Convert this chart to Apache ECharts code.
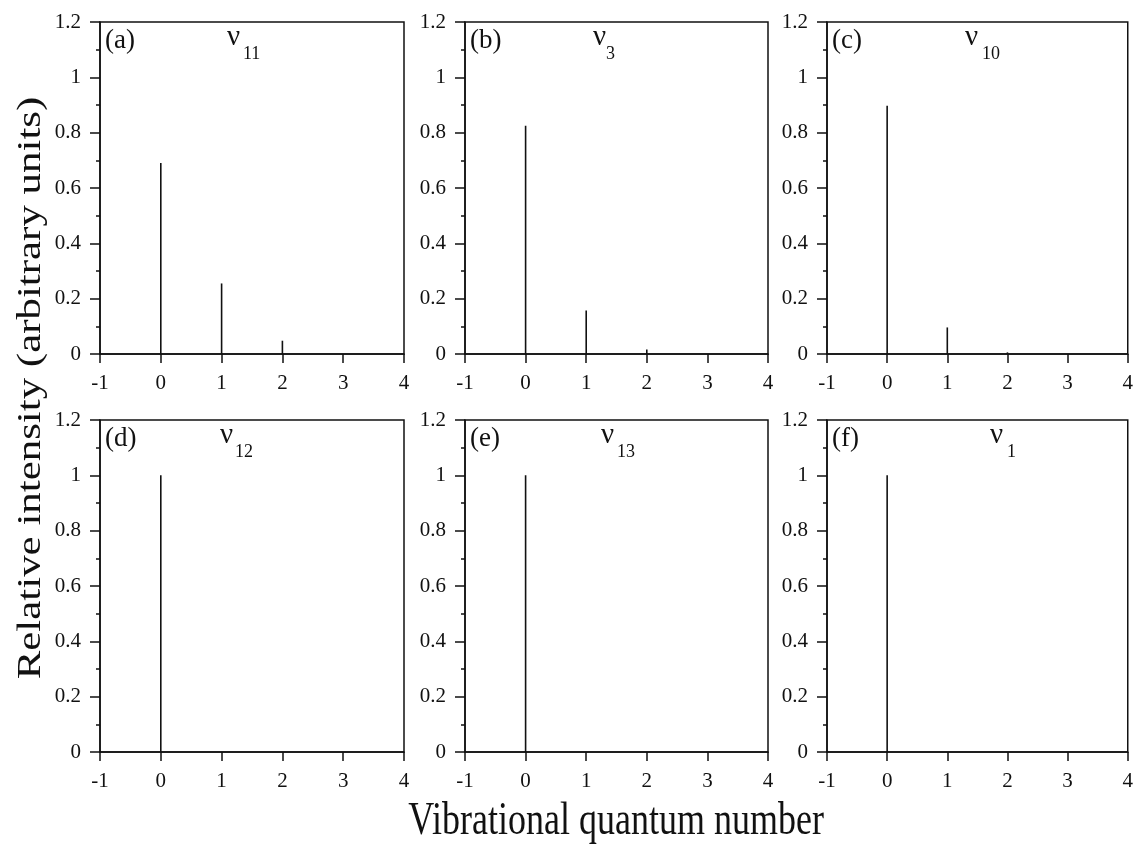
<!DOCTYPE html>
<html>
<head>
<meta charset="utf-8">
<script src="https://cdn.jsdelivr.net/npm/echarts@6/dist/echarts.min.js"></script>
<style>
html,body{margin:0;padding:0;background:#fff;}
#c{width:1136px;height:851px;}
</style>
</head>
<body>
<div id="c"></div>
<script>
// ---- data ----
var panelLabels = ['(a)', '(b)', '(c)', '(d)', '(e)', '(f)'];
var modeSubs = ['11', '3', '10', '12', '13', '1'];
var quantumA = [0, 1, 2];
var intensityA = [0.69, 0.255, 0.048];
var quantumB = [0, 1, 2];
var intensityB = [0.825, 0.157, 0.016];
var quantumC = [0, 1, 2];
var intensityC = [0.897, 0.096, 0.006];
var quantumD = [0];
var intensityD = [1.0];
var quantumE = [0];
var intensityE = [1.0];
var quantumF = [0];
var intensityF = [1.0];
var xTickLabels = ['-1', '0', '1', '2', '3', '4'];
var yTickLabels = ['0', '0.2', '0.4', '0.6', '0.8', '1', '1.2'];
var xTitle = 'Vibrational quantum number';
var yTitle = 'Relative intensity (arbitrary units)';

var quanta = [quantumA, quantumB, quantumC, quantumD, quantumE, quantumF];
var intens = [intensityA, intensityB, intensityC, intensityD, intensityE, intensityF];

// ---- layout ----
var FONT = '"Liberation Serif", "Times New Roman", serif';
var INK = '#111';
var lefts = [100, 465, 827];
var widths = [304, 303, 304];
var tops = [22, 420];
var H = 332;
var nuLeft = [227, 593, 965, 220, 601, 990];
var subGap = [16, 13, 17, 15, 16, 17];

var grids = [], xAxes = [], yAxes = [], series = [], graphics = [];
for (var i = 0; i < 6; i++) {
  var col = i % 3, row = Math.floor(i / 3);
  grids.push({
    left: lefts[col], top: tops[row], width: widths[col], height: H,
    show: true, borderColor: INK, borderWidth: 1.5, backgroundColor: 'transparent'
  });
  xAxes.push({
    type: 'value', gridIndex: i, min: -1, max: 4, interval: 1,
    axisLine: { show: true, onZero: false, lineStyle: { color: INK, width: 1.5 } },
    axisTick: { show: true, inside: false, length: 9, lineStyle: { color: INK, width: 1.5 } },
    minorTick: { show: false },
    splitLine: { show: false },
    axisLabel: {
      fontFamily: FONT, fontSize: 21, color: INK, margin: 19,
      formatter: function (v) { return xTickLabels[Math.round(v) + 1]; }
    }
  });
  yAxes.push({
    type: 'value', gridIndex: i, min: 0, max: 1.2, interval: 0.2,
    axisLine: { show: true, onZero: false, lineStyle: { color: INK, width: 1.5 } },
    axisTick: { show: true, inside: false, length: 10, lineStyle: { color: INK, width: 1.5 } },
    minorTick: { show: true, splitNumber: 2, length: 4, lineStyle: { color: INK, width: 1.5 } },
    splitLine: { show: false },
    axisLabel: {
      fontFamily: FONT, fontSize: 21, color: INK, margin: 19,
      formatter: function (v) { return yTickLabels[Math.round(v / 0.2)]; }
    }
  });
  var d = [];
  for (var k = 0; k < quanta[i].length; k++) d.push([quanta[i][k], intens[i][k]]);
  series.push({
    type: 'bar', xAxisIndex: i, yAxisIndex: i, data: d,
    barWidth: 1.6, itemStyle: { color: INK }, silent: true, animation: false
  });
  var baseY = tops[row];
  graphics.push({
    type: 'text', x: lefts[col] + 5, y: baseY + 19, silent: true,
    style: { text: panelLabels[i], font: '27px ' + FONT, fill: INK, verticalAlign: 'middle', align: 'left' }
  });
  graphics.push({
    type: 'text', x: nuLeft[i], y: baseY + 15, silent: true,
    style: { text: 'ν', font: '29px ' + FONT, fill: INK, verticalAlign: 'middle', align: 'left' }
  });
  graphics.push({
    type: 'text', x: nuLeft[i] + subGap[i], y: baseY + 32, silent: true,
    style: { text: modeSubs[i], font: '18px ' + FONT, fill: INK, verticalAlign: 'middle', align: 'left' }
  });
}
graphics.push({
  type: 'text', x: 616, y: 822, scaleY: 1.3, silent: true,
  style: { text: xTitle, font: '36px ' + FONT, fill: INK, align: 'center', verticalAlign: 'middle' }
});
graphics.push({
  type: 'text', x: 31, y: 388, rotation: Math.PI / 2, scaleX: 1.3, silent: true,
  style: { text: yTitle, font: '33px ' + FONT, fill: INK, align: 'center', verticalAlign: 'middle' }
});

var chart = echarts.init(document.getElementById('c'), null, { renderer: 'canvas' });
chart.setOption({
  backgroundColor: '#fff',
  animation: false,
  grid: grids,
  xAxis: xAxes,
  yAxis: yAxes,
  series: series,
  graphic: graphics
});
</script>
</body>
</html>
